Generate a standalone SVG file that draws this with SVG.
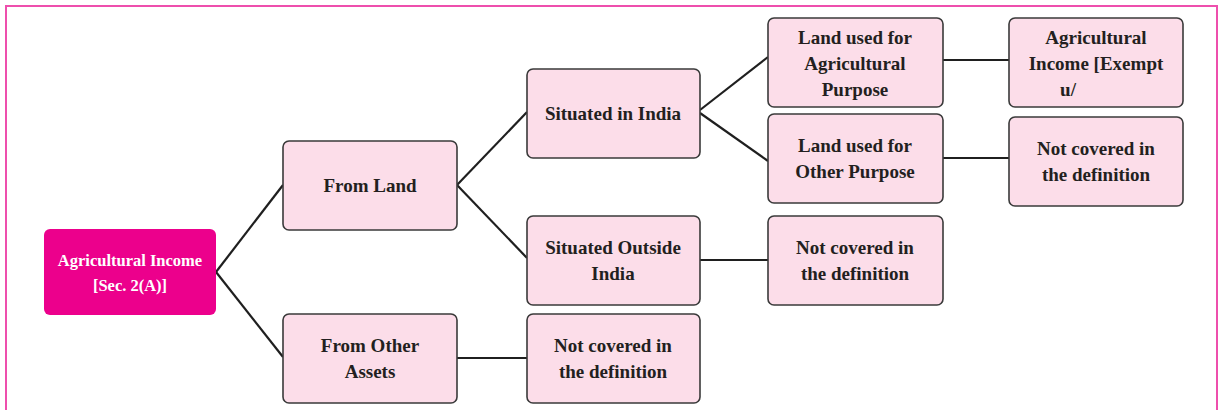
<svg xmlns="http://www.w3.org/2000/svg" width="1220" height="410" viewBox="0 0 1220 410">
<style>
.bg{fill:#ffffff}
.frame{fill:none;stroke:#EE4FAD;stroke-width:2}
.box{fill:#FCDDE9;stroke:#3a3a3a;stroke-width:1.6}
.root{fill:#EC008C;stroke:none}
.t{font-family:"Liberation Serif","Times New Roman",serif;font-weight:bold;font-size:19px;fill:#231F20;text-anchor:middle}
.tr{font-family:"Liberation Serif","Times New Roman",serif;font-weight:bold;font-size:16.5px;fill:#ffffff;text-anchor:middle}
.c{fill:none;stroke:#1f1f1f;stroke-width:2.2}
</style>
<rect class="bg" x="0" y="0" width="1220" height="410"/>
<path class="frame" d="M6,410 V6 H1217 V410"/>
<g id="connectors">
<path class="c" d="M216,272 L283,185"/>
<path class="c" d="M216,272 L283,357"/>
<path class="c" d="M457,185 L527,112"/>
<path class="c" d="M457,185 L527,258"/>
<path class="c" d="M700,110 L768,57"/>
<path class="c" d="M700,113 L768,161"/>
<path class="c" d="M943,60 L1009,60"/>
<path class="c" d="M943,158 L1009,158"/>
<path class="c" d="M700,260 L768,260"/>
<path class="c" d="M457,358 L527,358"/>
</g>
<g id="root">
<rect class="root" x="44" y="229" width="172" height="86" rx="6"/>
<text class="tr" x="130" y="266">Agricultural Income</text>
<text class="tr" x="130" y="291">[Sec. 2(A)]</text>
</g>
<g id="from-land">
<rect class="box" x="283" y="141" width="174" height="89" rx="6"/>
<text class="t" x="370" y="192">From Land</text>
</g>
<g id="from-other-assets">
<rect class="box" x="283" y="314" width="174" height="89" rx="6"/>
<text class="t" x="370" y="352">From Other</text>
<text class="t" x="370" y="378">Assets</text>
</g>
<g id="situated-india">
<rect class="box" x="527" y="69" width="173" height="89" rx="6"/>
<text class="t" x="613" y="120">Situated in India</text>
</g>
<g id="situated-outside">
<rect class="box" x="527" y="216" width="173" height="89" rx="6"/>
<text class="t" x="613" y="254">Situated Outside</text>
<text class="t" x="613" y="280">India</text>
</g>
<g id="not-covered-assets">
<rect class="box" x="527" y="314" width="173" height="89" rx="6"/>
<text class="t" x="613" y="352">Not covered in</text>
<text class="t" x="613" y="378">the definition</text>
</g>
<g id="land-agri">
<rect class="box" x="768" y="18" width="175" height="89" rx="6"/>
<text class="t" x="855" y="44">Land used for</text>
<text class="t" x="855" y="70">Agricultural</text>
<text class="t" x="855" y="96">Purpose</text>
</g>
<g id="land-other">
<rect class="box" x="768" y="114" width="175" height="89" rx="6"/>
<text class="t" x="855" y="152">Land used for</text>
<text class="t" x="855" y="178">Other Purpose</text>
</g>
<g id="not-covered-outside">
<rect class="box" x="768" y="216" width="175" height="89" rx="6"/>
<text class="t" x="855" y="254">Not covered in</text>
<text class="t" x="855" y="280">the definition</text>
</g>
<g id="agri-income-exempt">
<rect class="box" x="1009" y="18" width="174" height="89" rx="6"/>
<text class="t" x="1096" y="44">Agricultural</text>
<text class="t" x="1096" y="70">Income [Exempt</text>
<text class="t" x="1068" y="96">u/</text>
</g>
<g id="not-covered-other">
<rect class="box" x="1009" y="117" width="174" height="89" rx="6"/>
<text class="t" x="1096" y="155">Not covered in</text>
<text class="t" x="1096" y="181">the definition</text>
</g>
</svg>
